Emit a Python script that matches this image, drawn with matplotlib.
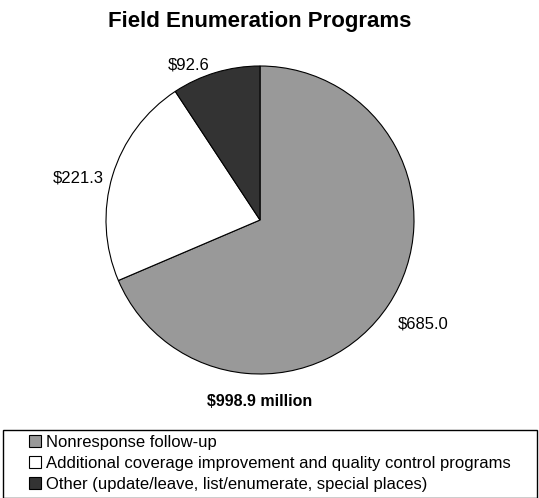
import matplotlib
matplotlib.use("Agg")
import matplotlib.pyplot as plt
from matplotlib.patches import Rectangle, Patch

plt.rcParams['font.family'] = ['Liberation Sans', 'DejaVu Sans']

# data (millions of dollars)
programs = ['Nonresponse follow-up',
            'Additional coverage improvement and quality control programs',
            'Other (update/leave, list/enumerate, special places)']
amounts = [685.0, 221.3, 92.6]
colors = ['#999999', '#ffffff', '#333333']
total_label = '$998.9 million'
title = 'Field Enumeration Programs'

fig = plt.figure(figsize=(5.39, 4.98), dpi=100)
W, H = 539, 498

# pie axes: center (260,220) px, radius 154 px
cx, cy, r = 260, 220, 154
ax = fig.add_axes([(cx - r) / W, (H - cy - r) / H, 2 * r / W, 2 * r / H])
wedges, texts = ax.pie(amounts, colors=colors, startangle=90, counterclock=False,
                       labels=['$%.1f' % a for a in amounts], labeldistance=1.23,
                       wedgeprops=dict(edgecolor='black', linewidth=0.8),
                       textprops=dict(fontsize=12))
for t in texts:
    t.set_ha('center')
    t.set_va('center')
# nudge labels the way the original sits
x, y = texts[0].get_position()
texts[0].set_position((x + 0.03, y))
x, y = texts[1].get_position()
texts[1].set_position((x, y - 0.08))
x, y = texts[2].get_position()
texts[2].set_position((x - 0.11, y - 0.17))
ax.set_xlim(-1, 1)
ax.set_ylim(-1, 1)
ax.axis('off')

fig.text(cx / W, 1 - 22 / H, title, ha='center', va='center',
         fontsize=16, fontweight='bold')
fig.text(cx / W, 1 - 401 / H, total_label, ha='center', va='center',
         fontsize=11.5, fontweight='bold')

# legend box
fig.patches.append(Rectangle((3 / W, 0.5 / H), 534 / W, 68 / H, transform=fig.transFigure,
                             facecolor='none', edgecolor='black', linewidth=1))
handles = [Patch(facecolor=c, edgecolor='black', linewidth=0.8) for c in colors]
fig.legend(handles, programs, loc='upper left', bbox_to_anchor=(29 / W, 1 - 435 / H),
           frameon=False, fontsize=12, handlelength=0.7, handleheight=0.7,
           handletextpad=0.3, labelspacing=0.36, borderpad=0, borderaxespad=0)

fig.savefig('out.png', dpi=100)
